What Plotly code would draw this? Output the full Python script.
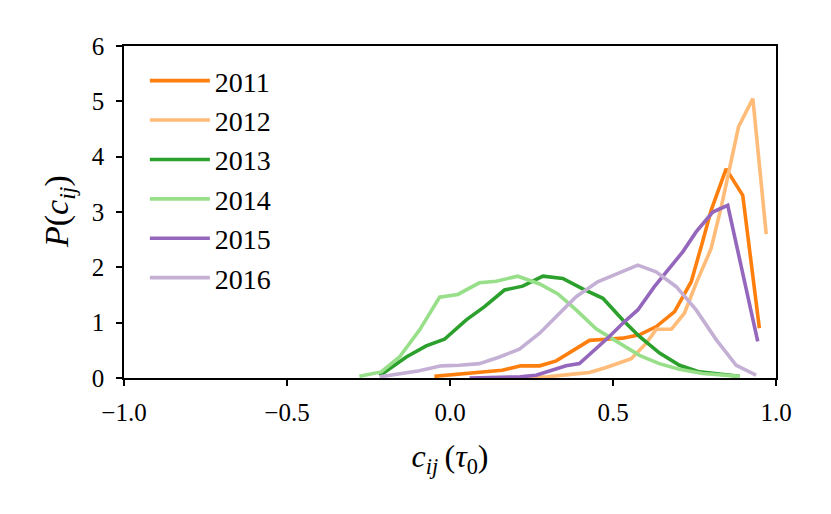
import plotly.graph_objects as go

years = ["2011", "2012", "2013", "2014", "2015", "2016"]
colors = ["#ff7f0e", "#ffbb78", "#2ca02c", "#98df8a", "#9467bd", "#c5b0d5"]

x_2011 = [-0.048, 0.039, 0.10, 0.16, 0.218, 0.275, 0.326, 0.377, 0.428, 0.479, 0.53, 0.581,
          0.633, 0.689, 0.74, 0.776, 0.801, 0.847, 0.898, 0.949]
y_2011 = [0.03, 0.07, 0.10, 0.14, 0.22, 0.22, 0.31, 0.50, 0.68, 0.70, 0.72, 0.78,
          0.93, 1.20, 1.74, 2.49, 3.03, 3.78, 3.30, 0.90]

x_2012 = [0.20, 0.30, 0.377, 0.428, 0.479, 0.52, 0.556, 0.602, 0.633, 0.679, 0.719, 0.755,
          0.801, 0.832, 0.857, 0.885, 0.929, 0.97]
y_2012 = [0.0, 0.02, 0.07, 0.10, 0.19, 0.28, 0.35, 0.63, 0.88, 0.88, 1.17, 1.71,
          2.34, 3.09, 3.81, 4.54, 5.05, 2.60]

x_2013 = [-0.216, -0.134, -0.073, -0.017, 0.05, 0.106, 0.167, 0.223, 0.285, 0.346, 0.407,
          0.469, 0.53, 0.581, 0.643, 0.704, 0.765, 0.888]
y_2013 = [0.04, 0.38, 0.58, 0.70, 1.05, 1.29, 1.59, 1.66, 1.84, 1.80, 1.61,
          1.44, 1.05, 0.75, 0.45, 0.23, 0.11, 0.03]

x_2014 = [-0.278, -0.211, -0.155, -0.093, -0.032, 0.024, 0.090, 0.142, 0.208, 0.275, 0.331,
          0.387, 0.448, 0.520, 0.581, 0.642, 0.703, 0.775, 0.888]
y_2014 = [0.03, 0.11, 0.38, 0.87, 1.46, 1.51, 1.72, 1.75, 1.84, 1.70, 1.52,
          1.23, 0.89, 0.62, 0.41, 0.26, 0.16, 0.08, 0.03]

x_2015 = [0.06, 0.15, 0.215, 0.264, 0.315, 0.356, 0.397, 0.438, 0.489, 0.53, 0.576, 0.627,
          0.673, 0.714, 0.755, 0.806, 0.852, 0.898, 0.944]
y_2015 = [0.0, 0.01, 0.02, 0.05, 0.14, 0.22, 0.26, 0.47, 0.75, 0.99, 1.23, 1.65,
          1.98, 2.28, 2.64, 3.00, 3.12, 1.92, 0.66]

x_2016 = [-0.216, -0.165, -0.094, -0.027, 0.029, 0.09, 0.152, 0.213, 0.275, 0.336, 0.387,
          0.453, 0.52, 0.576, 0.632, 0.694, 0.755, 0.817, 0.878, 0.939]
y_2016 = [0.02, 0.07, 0.13, 0.22, 0.23, 0.26, 0.38, 0.52, 0.81, 1.17, 1.47,
          1.74, 1.90, 2.04, 1.92, 1.65, 1.23, 0.69, 0.23, 0.05]

xs = [x_2011, x_2012, x_2013, x_2014, x_2015, x_2016]
ys = [y_2011, y_2012, y_2013, y_2014, y_2015, y_2016]

serif = "Liberation Serif, Times New Roman, serif"

fig = go.Figure()
for yr, c, x, y in zip(years, colors, xs, ys):
    fig.add_trace(go.Scatter(x=x, y=y, mode="lines", name=yr, legendgroup=yr,
                             line=dict(color=c, width=3.6)))

axis_common = dict(
    showline=True, linecolor="black", linewidth=1.5, mirror=True,
    ticks="outside", ticklen=6, tickwidth=1.5, tickcolor="black",
    showgrid=False, zeroline=False, automargin=False,
    tickfont=dict(family=serif, size=25, color="black"),
)

fig.update_xaxes(range=[-1, 1], tickvals=[-1, -0.5, 0, 0.5, 1],
                 ticktext=["\u22121.0", "\u22120.5", "0.0", "0.5", "1.0"],
                 ticklabelstandoff=5,
                 title=dict(text="<i>c</i><sub><i>ij</i></sub>\u2009(<i>\u03c4</i><sub>0</sub>)",
                            font=dict(family=serif, size=32, color="black"), standoff=20),
                 **axis_common)
fig.update_yaxes(range=[0, 6], tickvals=[0, 1, 2, 3, 4, 5, 6],
                 ticklabelstandoff=7, **axis_common)

# y title as a rotated annotation so its spot is easy to place
fig.add_annotation(text="<i>P</i>(<i>c</i><sub><i>ij</i></sub>)",
                   xref="paper", yref="paper", x=0, y=0.5,
                   xanchor="center", yanchor="middle", xshift=-65, textangle=-90,
                   showarrow=False, font=dict(family=serif, size=34, color="black"))

# page has an 8px body margin, so the figure is a bit smaller than the window
fig.update_layout(
    width=815, height=498,
    margin=dict(l=116, r=47, t=38, b=128),
    plot_bgcolor="white", paper_bgcolor="white",
    font=dict(family=serif, color="black"),
    legend=dict(x=0.032, y=0.97, xanchor="left", yanchor="top",
                font=dict(family=serif, size=28, color="black"),
                bgcolor="rgba(0,0,0,0)", tracegroupgap=0, itemwidth=60),
)

fig.write_html("out.html")
